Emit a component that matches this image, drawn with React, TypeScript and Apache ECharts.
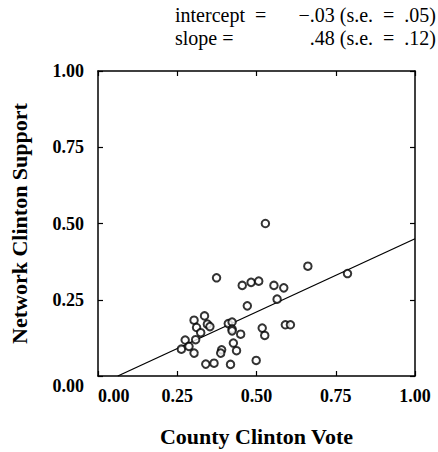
import React, { useEffect, useRef } from "react";
import * as echarts from "echarts";

const countyVote = [
  0.528, 0.662, 0.787, 0.374, 0.455, 0.483, 0.507, 0.555, 0.586, 0.565,
  0.471, 0.336, 0.303, 0.345, 0.353, 0.311, 0.324, 0.411, 0.423, 0.423,
  0.423, 0.45, 0.518, 0.526, 0.591, 0.607, 0.275, 0.308, 0.263, 0.287,
  0.303, 0.427, 0.437, 0.39, 0.387, 0.34, 0.366, 0.418, 0.499,
];
const networkSupport = [
  0.5, 0.36, 0.336, 0.322, 0.297, 0.307, 0.311, 0.297, 0.289, 0.252,
  0.23, 0.197, 0.183, 0.17, 0.162, 0.159, 0.142, 0.172, 0.177, 0.154,
  0.148, 0.137, 0.157, 0.133, 0.168, 0.168, 0.118, 0.119, 0.088, 0.097,
  0.075, 0.108, 0.083, 0.086, 0.075, 0.039, 0.042, 0.038, 0.051,
];
const fitX = [0.0625, 1.0];
const fitY = [0.0, 0.45];
const tickValues = [0, 0.25, 0.5, 0.75, 1.0];

const SERIF = "'Liberation Serif', 'DejaVu Serif', serif";

export default function App() {
  const ref = useRef<HTMLDivElement>(null);
  useEffect(() => {
    if (!ref.current) return;
    const chart = echarts.init(ref.current, null, { renderer: "svg" });
    const axisCommon = {
      type: "value" as const,
      min: tickValues[0],
      max: tickValues[tickValues.length - 1],
      interval: 0.25,
      splitLine: { show: false },
      axisLine: { show: true, onZero: false, lineStyle: { color: "#000", width: 1.5 } },
      axisTick: { show: true, inside: true, length: 5, lineStyle: { color: "#000", width: 1.2 } },
    };
    const labelFont = {
      fontFamily: SERIF,
      fontWeight: "bold" as const,
      fontSize: 18,
      color: "#000",
    };
    const nameFont = { fontFamily: SERIF, fontWeight: "bold" as const, fontSize: 22, color: "#000" };
    const topFont = `20px ${SERIF}`;
    chart.setOption({
      animation: false,
      backgroundColor: "#fff",
      grid: { left: 97, right: 23, top: 71, bottom: 75 },
      xAxis: [
        {
          ...axisCommon,
          position: "bottom",
          name: "County Clinton Vote",
          nameLocation: "middle",
          nameGap: 49,
          nameTextStyle: nameFont,
          axisLabel: {
            ...labelFont,
            margin: 11,
            alignMinLabel: "left",
            formatter: (v: number) => v.toFixed(2),
          },
        },
        {
          ...axisCommon,
          position: "top",
          axisLabel: { show: false },
        },
      ],
      yAxis: [
        {
          ...axisCommon,
          position: "left",
          name: "Network Clinton Support",
          nameLocation: "middle",
          nameGap: 68,
          nameTextStyle: nameFont,
          axisLabel: {
            ...labelFont,
            margin: 14,
            formatter: (v: number) => (v === 0 ? "{low|0.00}" : v.toFixed(2)),
            rich: { low: { ...labelFont, padding: [20, 0, 0, 0] } },
          },
        },
        {
          ...axisCommon,
          position: "right",
          axisLabel: { show: false },
        },
      ],
      graphic: [
        { type: "text", left: 175, top: 5, style: { text: "intercept  =", font: topFont, fill: "#000" } },
        {
          type: "text",
          right: 2,
          top: 5,
          style: { text: "\u2212.03 (s.e.  =  .05)", font: topFont, fill: "#000" },
        },
        { type: "text", left: 175, top: 28, style: { text: "slope =", font: topFont, fill: "#000" } },
        {
          type: "text",
          right: 2,
          top: 28,
          style: { text: ".48 (s.e.  =  .12)", font: topFont, fill: "#000" },
        },
      ],
      series: [
        {
          type: "scatter",
          xAxisIndex: 0,
          yAxisIndex: 0,
          data: countyVote.map((x, i) => [x, networkSupport[i]]),
          symbol: "emptyCircle",
          symbolSize: 7.5,
          itemStyle: { color: "#000", borderColor: "#000", borderWidth: 1.6 },
          z: 5,
        },
        {
          type: "line",
          xAxisIndex: 0,
          yAxisIndex: 0,
          data: fitX.map((x, i) => [x, fitY[i]]),
          showSymbol: false,
          symbol: "none",
          lineStyle: { color: "#000", width: 1.3 },
        },
      ],
    });
    return () => chart.dispose();
  }, []);
  return (
    <div
      ref={ref}
      style={{ position: "fixed", left: 0, top: 0, width: 438, height: 452, background: "#fff" }}
    />
  );
}
